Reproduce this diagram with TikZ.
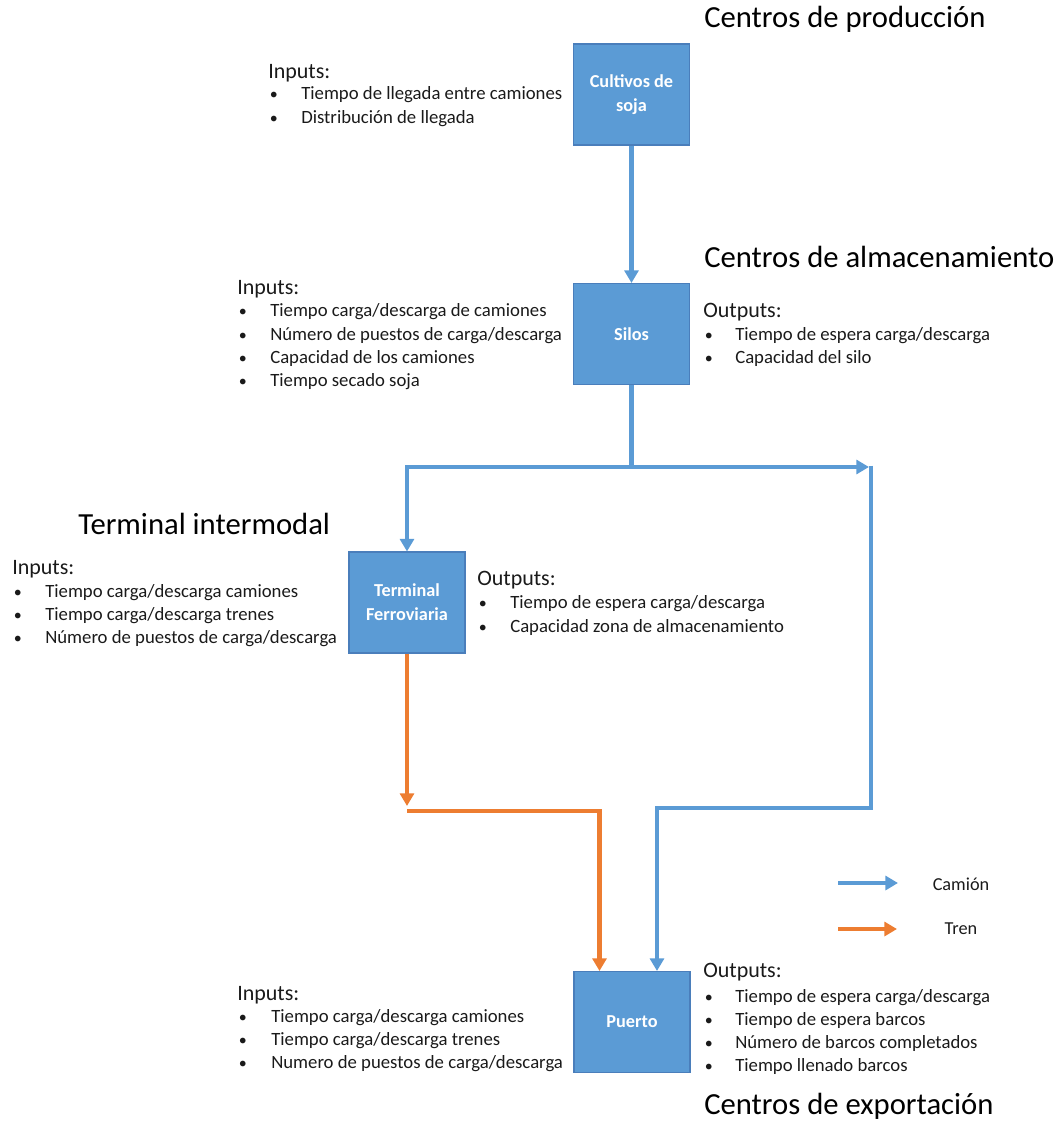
\documentclass[tikz,border=0pt]{standalone}
\usepackage{fontspec}
\setmainfont{Carlito}
\usetikzlibrary{arrows.meta}
\definecolor{boxblue}{HTML}{5B9BD5}
\definecolor{boxedge}{HTML}{4A7EBB}
\definecolor{truck}{HTML}{5B9BD5}
\definecolor{train}{HTML}{ED7D31}
\definecolor{txt}{HTML}{1A1A1A}
\tikzset{
  stage/.style={draw=boxedge, fill=boxblue, line width=0.8pt, minimum width=87pt, minimum height=75.75pt,
    text=white, font=\fontsize{13.7}{18}\selectfont\bfseries, align=center, inner sep=0pt},
  flow/.style={line width=3.1pt, -{Triangle[width=10.5pt,length=9.5pt]}},
  plain/.style={line width=3.1pt},
  item/.style={font=\fontsize{14.05}{16}\selectfont, text=txt, inner sep=0pt, anchor=west, text height=9.5pt, text depth=3pt},
  dot/.style={font=\fontsize{12}{14}\selectfont, text=txt, inner sep=0pt, anchor=west, text height=9.5pt, text depth=3pt},
  head/.style={font=\fontsize{16.5}{20}\selectfont, text=txt, inner sep=0pt, anchor=west, text height=11.5pt, text depth=3.5pt},
  title/.style={font=\fontsize{23}{28}\selectfont, text=black, inner sep=0pt, anchor=west, text height=16pt, text depth=5pt},
  legend/.style={font=\fontsize{13.7}{16}\selectfont, text=txt, inner sep=0pt}
}
% bullet line: #1 name, #2 bullet x, #3 text x, #4 y, #5 text
\newcommand{\bulletline}[5]{%
  \node[dot] (#1b) at (#2,#4) {\textbullet};
  \node[item] (#1) at (#3,#4) {#5};
}
\begin{document}
\begin{tikzpicture}[x=0.75pt,y=-0.75pt]
\useasboundingbox (0,0) rectangle (1060,1122);

% stages
\node[stage] (cultivos) at (631.5,94.5) {Cultivos de\\soja};
\node[stage] (silos) at (631.5,334) {Silos};
\node[stage] (terminal) at (407,602.5) {Terminal\\Ferroviaria};
\node[stage] (puerto) at (632,1022) {Puerto};

% section titles
\node[title] (tprod) at (704,20) {Centros de producción};
\node[title] (talm) at (704,260) {Centros de almacenamiento};
\node[title] (tint) at (78,527) {Terminal intermodal};
\node[title] (texp) at (704,1107) {Centros de exportación};

% production inputs
\node[head] (inA) at (268,73) {Inputs:};
\bulletline{inA1}{269.5}{301}{95}{Tiempo de llegada entre camiones}
\bulletline{inA2}{269.5}{301}{119}{Distribución de llegada}

% storage inputs / outputs
\node[head] (inB) at (237,289) {Inputs:};
\bulletline{inB1}{238.5}{270}{312}{Tiempo carga/descarga de camiones}
\bulletline{inB2}{238.5}{270}{336}{Número de puestos de carga/descarga}
\bulletline{inB3}{238.5}{270}{359}{Capacidad de los camiones}
\bulletline{inB4}{238.5}{270}{382}{Tiempo secado soja}
\node[head] (outB) at (703,312) {Outputs:};
\bulletline{outB1}{704.5}{735}{336}{Tiempo de espera carga/descarga}
\bulletline{outB2}{704.5}{735}{359}{Capacidad del silo}

% intermodal terminal inputs / outputs
\node[head] (inC) at (12,569) {Inputs:};
\bulletline{inC1}{13.5}{45}{593}{Tiempo carga/descarga camiones}
\bulletline{inC2}{13.5}{45}{616}{Tiempo carga/descarga trenes}
\bulletline{inC3}{13.5}{45}{639}{Número de puestos de carga/descarga}
\node[head] (outC) at (477,580) {Outputs:};
\bulletline{outC1}{478.5}{510}{604}{Tiempo de espera carga/descarga}
\bulletline{outC2}{478.5}{510}{628}{Capacidad zona de almacenamiento}

% export inputs / outputs
\node[head] (inD) at (237,995) {Inputs:};
\bulletline{inD1}{238.5}{271}{1018}{Tiempo carga/descarga camiones}
\bulletline{inD2}{238.5}{271}{1041}{Tiempo carga/descarga trenes}
\bulletline{inD3}{238.5}{271}{1064}{Numero de puestos de carga/descarga}
\node[head] (outD) at (703,972) {Outputs:};
\bulletline{outD1}{704.5}{735}{998}{Tiempo de espera carga/descarga}
\bulletline{outD2}{704.5}{735}{1021}{Tiempo de espera barcos}
\bulletline{outD3}{704.5}{735}{1044}{Número de barcos completados}
\bulletline{outD4}{704.5}{735}{1067}{Tiempo llenado barcos}

% route waypoints
\coordinate (split) at (631.5,467);
\coordinate (rightend) at (869,467);
\coordinate (rtop) at (871,465.5);
\coordinate (rbot) at (871,808);
\coordinate (rin) at (657,808);
\coordinate (trainend) at (407,806);
\coordinate (tleft) at (407,811);
\coordinate (tin) at (599.5,811);

% truck routes
\draw[flow, truck] (cultivos.south) -- (silos.north);
\draw[plain, truck] (silos.south) -- (split);
\draw[flow, truck] (split) -| (terminal.north);
\draw[flow, truck] (split) -- (rightend);
\draw[flow, truck, line join=miter] (rtop) -- (rbot) -- (rin) -- (rin |- puerto.north);

% train route
\draw[flow, train] (terminal.south) -- (trainend);
\draw[flow, train, line join=miter] (tleft) -- (tin) -- (tin |- puerto.north);

% legend
\coordinate (lgA1) at (838,883);
\coordinate (lgA2) at (898,883);
\coordinate (lgB1) at (838,929);
\coordinate (lgB2) at (897,929);
\draw[flow, truck] (lgA1) -- (lgA2);
\draw[flow, train] (lgB1) -- (lgB2);
\node[legend] (camion) at (961,884) {Camión};
\node[legend] (tren) at (961,929) {Tren};
\end{tikzpicture}
\end{document}
